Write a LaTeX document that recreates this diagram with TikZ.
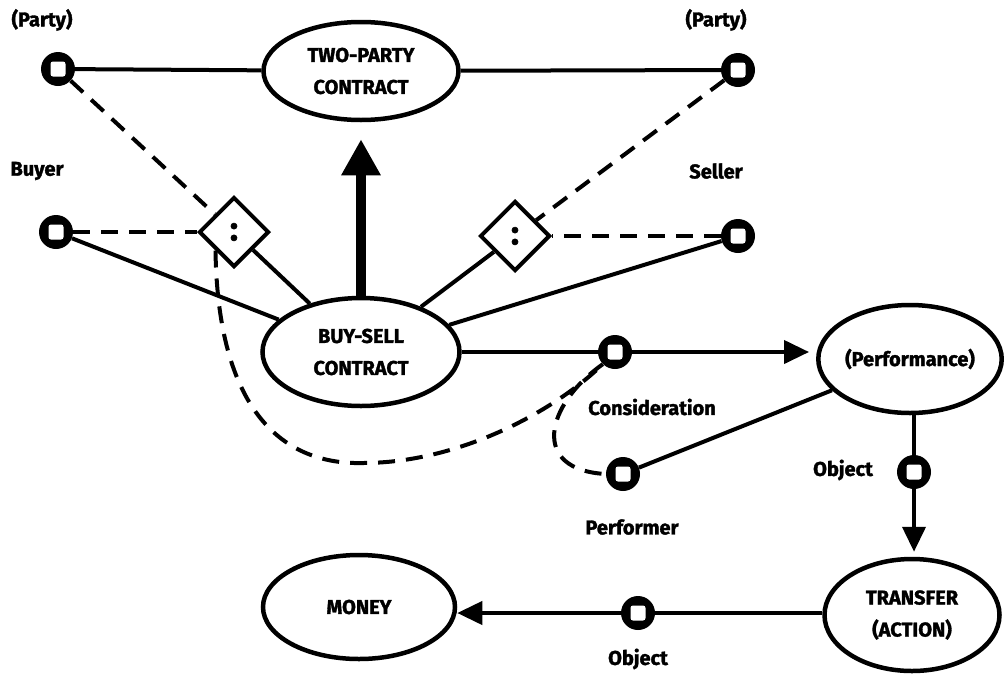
\documentclass[tikz,border=0pt]{standalone}
\usepackage{fontspec}
\setmainfont{Fira Sans}[BoldFeatures={FakeBold=1.6}]
\usetikzlibrary{shapes.geometric,arrows.meta}
\begin{document}
\begin{tikzpicture}[x=1pt,y=-1pt,
  lbl/.style={font=\bfseries\fontsize{20}{22}\selectfont, inner sep=0pt},
  ell/.style={ellipse, draw, line width=4.5pt, align=center, inner sep=0pt, font=\bfseries\fontsize{20}{32}\selectfont},
  port/.style={circle, fill=black, minimum size=34pt, inner sep=0pt,
    path picture={\fill[white, rounded corners=2.5pt] ([shift={(-7.5pt,-7.5pt)}]path picture bounding box.center) rectangle ([shift={(7.5pt,7.5pt)}]path picture bounding box.center);}},
  dia/.style={diamond, draw, line width=4pt, fill=white, minimum size=70pt, inner sep=0pt, font=\bfseries\fontsize{34}{34}\selectfont},
  con/.style={line width=4pt},
  dsh/.style={line width=4pt, dash pattern=on 17pt off 11pt},
  arr/.style={con, -{Triangle[length=25pt,width=23pt]}},
]
\useasboundingbox (0,0) rectangle (1008,675);
\fill[white] (0,0) rectangle (1008,675);

% ellipses
\node[ell, minimum width=195pt, minimum height=98pt] (tp) at (361,71) {TWO-PARTY\\CONTRACT};
\node[ell, minimum width=197pt, minimum height=108pt] (bs) at (361,352) {BUY-SELL\\CONTRACT};
\node[ell, minimum width=175pt, minimum height=108pt] (perf) at (910,359) {(Performance)};
\node[ell, minimum width=175pt, minimum height=112pt] (trans) at (912,615) {TRANSFER\\(ACTION)};
\node[ell, minimum width=192pt, minimum height=104pt] (money) at (359,607) {MONEY};

% ports
\node[port] (pl) at (58,69) {};
\node[port] (pr) at (738,70) {};
\node[port] (buy) at (56,232) {};
\node[port] (sell) at (738,236) {};
\node[port] (cons) at (615,352) {};
\node[port] (pfm) at (623,474) {};
\node[port] (obj1) at (914,472) {};
\node[port] (obj2) at (638,613) {};

% diamonds
\node[dia] (ld) at (234,232) {:};
\node[dia] (rd) at (515,236) {:};

% labels
\node[lbl] (lpl) at (42,20) {(Party)};
\node[lbl] (lpr) at (716,20) {(Party)};
\node[lbl] (lbuy) at (37,171) {Buyer};
\node[lbl] (lsell) at (716,171) {Seller};
\node[lbl] (lcons) at (652,407) {Consideration};
\node[lbl] (lpfm) at (632,527) {Performer};
\node[lbl] (lobj1) at (843,470) {Object};
\node[lbl] (lobj2) at (638,659) {Object};

% solid connectors
\draw[con] (pl) -- (tp);
\draw[con] (tp) -- (pr);
\draw[con] (buy) -- (bs);
\draw[con] (sell) -- (bs);
\draw[con] (ld) -- (bs);
\draw[con] (rd) -- (bs);
\draw[con] (bs.east |- cons) -- (cons);
\draw[arr, shorten >=7pt] (cons) -- (cons -| perf.west);
\draw[con] (pfm) -- (perf);
\draw[con] (obj1 |- perf.south) -- (obj1);
\draw[arr, shorten >=5pt] (obj1) -- (obj1 |- trans.north);
\draw[con] (obj2 -| trans.west) -- (obj2);
\draw[arr] (obj2) -- (obj2 -| money.east);

% thick arrow
\draw[line width=10pt, -{Triangle[length=36pt,width=37pt]}, shorten >=17pt] (bs) -- (tp);

% dashed connectors
\draw[dsh] (pl) -- (ld);
\draw[dsh] (buy) -- (ld);
\draw[dsh] (pr) -- (rd);
\draw[dsh] (sell) -- (rd);
\draw[dsh] (ld.south west) .. controls (218,420) and (290,465) .. (363,463)
  .. controls (455,463) and (550,415) .. (cons.south west);
\draw[dsh] (cons.south west) .. controls (545,405) and (530,470) .. (pfm.west);
\end{tikzpicture}
\end{document}
